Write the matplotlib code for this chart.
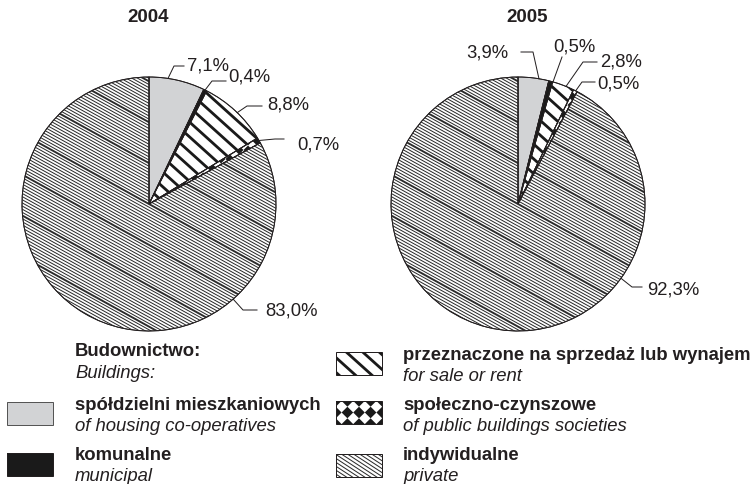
import numpy as np
import matplotlib
matplotlib.use("Agg")
import matplotlib.pyplot as plt
from matplotlib.collections import LineCollection, PolyCollection
from matplotlib.patches import Rectangle, Wedge

plt.rcParams['font.family'] = ['Liberation Sans', 'DejaVu Sans']

# ---- data -------------------------------------------------------------
years = ['2004', '2005']
categories_pl = ['spółdzielni mieszkaniowych', 'komunalne',
                 'przeznaczone na sprzedaż lub wynajem',
                 'społeczno-czynszowe', 'indywidualne']
categories_en = ['of housing co-operatives', 'municipal', 'for sale or rent',
                 'of public buildings societies', 'private']
shares_2004 = [7.1, 0.4, 8.8, 0.7, 83.0]
shares_2005 = [3.9, 0.5, 2.8, 0.5, 92.3]
legend_title_pl = 'Budownictwo:'
legend_title_en = 'Buildings:'

# ---- layout (pixel coordinates, y measured from the top) --------------
W, H = 754, 485
TXT = '#231f20'
PX = 72 / 100.0          # one pixel in points at dpi=100
FS = 13.3

pie_centers = [(149, 205), (518, 205)]
pie_radius = 127
title_pos = [(148, 18), (527, 18)]

# per label: angle on the rim (clockwise from top), leader bend points,
# text anchor and horizontal alignment
label_layout = [
    [(8.6, [(174, 67), (184, 67)], (187, 66), 'left'),
     (26.2, [(212, 82), (226, 82)], (228, 77), 'left'),
     (44.0, [(247, 107), (262, 107)], (267, 105), 'left'),
     (60.0, [(275, 140), (284, 140)], (297, 145), 'left'),
     (138.5, [(243, 311), (257, 311)], (265, 311), 'left')],
    [(9.5, [(533, 53), (521, 53)], (508, 53), 'right'),
     (16.0, [(562, 58)], (553, 47), 'left'),
     (22.2, [(583, 63), (597, 63)], (600, 62), 'left'),
     (27.0, [(582, 83), (595, 83)], (597, 84), 'left'),
     (125.8, [(632, 288), (642, 288)], (647, 290), 'left')],
]


def Y(py):
    return H - py


fig = plt.figure(figsize=(W / 100, H / 100), dpi=100)
ax = fig.add_axes([0, 0, 1, 1])


def stripes(clip, cx, cy, extent, angle, spacing, lw, color='#1a1a1a',
            heavy_every=None, heavy_lw=None):
    a = np.deg2rad(angle)
    u = np.array([np.cos(a), -np.sin(a)])
    n = np.array([np.sin(a), np.cos(a)])
    c = np.array([cx, cy])
    k = int(extent / spacing) + 2
    segs, widths = [], []
    for i in range(-k, k + 1):
        p = c + i * spacing * n
        segs.append([p - extent * u, p + extent * u])
        if heavy_every and i % heavy_every == 0:
            widths.append(heavy_lw)
        else:
            widths.append(lw)
    lc = LineCollection(segs, colors=color, linewidths=widths,
                        capstyle='butt', zorder=2.5)
    ax.add_collection(lc)
    lc.set_clip_path(clip)


def checker(clip, cx, cy, extent, h, color='#1a1a1a'):
    polys = []
    k = int(extent / (2 * h)) + 2
    for i in range(-k, k + 1):
        for j in range(-k, k + 1):
            x0 = cx + 2 * h * i
            y0 = cy + 2 * h * j
            polys.append([(x0 - h, y0), (x0, y0 + h), (x0 + h, y0), (x0, y0 - h)])
    pc = PolyCollection(polys, facecolors=color, edgecolors='none', zorder=2.5)
    ax.add_collection(pc)
    pc.set_clip_path(clip)


face = ['#d2d3d5', '#1a1a1a', 'white', 'white', 'white']


def fill_pattern(idx, clip, cx, cy, extent, small=False):
    if idx == 2:
        stripes(clip, cx, cy, extent, 42, 11, 2.8 * PX)
    elif idx == 3:
        checker(clip, cx, cy, extent, 4.5 if not small else 5.8)
    elif idx == 4:
        stripes(clip, cx, cy, extent, 29 if not small else 33,
                2.75 if not small else 3.3, 1.0 * PX, color='#2a2a2a',
                heavy_every=13 if not small else None, heavy_lw=1.9 * PX)


def fmt(v):
    return f'{v:.1f}'.replace('.', ',') + '%'


for k, shares in enumerate([shares_2004, shares_2005]):
    cx, cy = pie_centers[k][0], Y(pie_centers[k][1])
    wedges, _ = ax.pie(shares, colors=face, startangle=90, counterclock=False,
                       center=(cx, cy), radius=pie_radius,
                       wedgeprops=dict(edgecolor=TXT, linewidth=0.9 * PX))
    for i, w in enumerate(wedges):
        fill_pattern(i, w, cx, cy, pie_radius + 10)
    # outline of wedges on top of the fills
    for w in wedges:
        ax.add_patch(Wedge((cx, cy), pie_radius, w.theta1, w.theta2,
                           facecolor='none', edgecolor=TXT,
                           linewidth=0.9 * PX, zorder=3))
    ax.text(title_pos[k][0], Y(title_pos[k][1]), years[k], ha='center',
            va='center', fontsize=13.5, fontweight='bold', color=TXT)
    for v, (ang, pts, tpos, ha) in zip(shares, label_layout[k]):
        a = np.deg2rad(ang)
        ax_x = cx + pie_radius * np.sin(a)
        ax_y = cy + pie_radius * np.cos(a)
        xs = [ax_x] + [p[0] for p in pts]
        ys = [ax_y] + [Y(p[1]) for p in pts]
        ax.plot(xs, ys, color=TXT, lw=1.0 * PX, zorder=4)
        ax.text(tpos[0], Y(tpos[1]), fmt(v), ha=ha, va='center',
                fontsize=13.3, color=TXT)

# ---- legend ------------------------------------------------------------
legend_boxes = [(7, 403), (7, 454), (336, 353), (336, 402), (336, 455)]
legend_text = [(75, 406), (75, 456), (403, 356), (403, 406), (403, 456)]
BW, BH = 46, 23

ax.text(75, Y(352), legend_title_pl, ha='left', va='center', fontsize=FS,
        fontweight='bold', color=TXT)
ax.text(75, Y(374), legend_title_en, ha='left', va='center', fontsize=FS,
        style='italic', color=TXT)

for i in range(5):
    bx, by = legend_boxes[i]
    edge = '#555555' if i == 0 else TXT
    rect = Rectangle((bx, Y(by + BH)), BW, BH, facecolor=face[i],
                     edgecolor='none', zorder=2)
    ax.add_patch(rect)
    fill_pattern(i, rect, bx + BW / 2, Y(by + BH / 2), BW, small=True)
    ax.add_patch(Rectangle((bx, Y(by + BH)), BW, BH, facecolor='none',
                           edgecolor=edge, linewidth=1.0 * PX, zorder=3))
    tx, ty = legend_text[i]
    ax.text(tx, Y(ty), categories_pl[i], ha='left', va='center', fontsize=FS,
            fontweight='bold', color=TXT)
    ax.text(tx, Y(ty + 21), categories_en[i], ha='left', va='center',
            fontsize=FS, style='italic', color=TXT)

ax.set_xlim(0, W)
ax.set_ylim(0, H)
ax.set_aspect('auto')
ax.axis('off')

fig.savefig('out.png', dpi=100, facecolor='white')
